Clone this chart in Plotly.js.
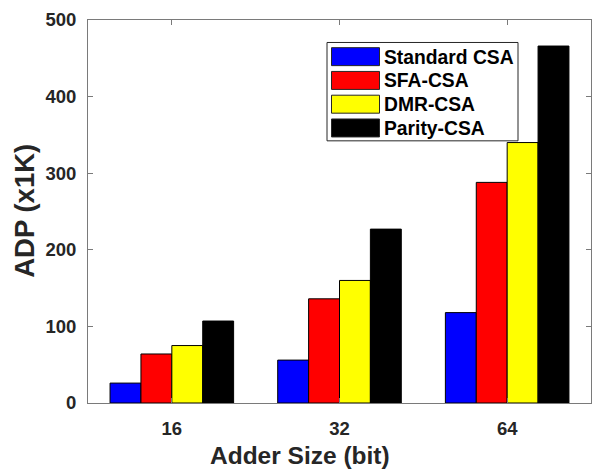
<!DOCTYPE html>
<html>
<head>
<meta charset="utf-8">
<script src="https://cdn.plot.ly/plotly-3.0.1.min.js"></script>
<style>html,body{margin:0;padding:0;background:#fff;}#chart{width:592px;height:471px;}</style>
</head>
<body>
<div id="chart"></div>
<script>
// ---- data ----
var categories = ['16', '32', '64'];
var seriesNames = ['Standard CSA', 'SFA-CSA', 'DMR-CSA', 'Parity-CSA'];
var standardCSA = [26, 56, 118];
var sfaCSA = [64, 136, 288];
var dmrCSA = [75, 160, 340];
var parityCSA = [107, 227, 466];
var yTicks = [0, 100, 200, 300, 400, 500];

// ---- styling ----
var colors = ['#0000ff', '#ff0000', '#ffff00', '#000000'];
var allValues = [standardCSA, sfaCSA, dmrCSA, parityCSA];
var W = 592, H = 471;
var L = 88, R = 591, T = 20, B = 403.5;
var txt = '#262626';
var fontFam = 'Liberation Sans, Arial, sans-serif';

function px(x) { return (x - L) / (R - L); }
function py(y) { return (B - y) / (B - T); }

var traces = seriesNames.map(function (n, i) {
  return {
    type: 'bar', name: n, x: [0, 1, 2], y: allValues[i],
    marker: { color: colors[i], line: { color: '#000', width: 1 } },
    showlegend: false, hoverinfo: 'y'
  };
});

var shapes = [], annotations = [];
// custom legend box
shapes.push({ type: 'rect', xref: 'paper', yref: 'paper', x0: px(327), x1: px(518), y0: py(141), y1: py(42.5),
  line: { color: '#262626', width: 1 }, fillcolor: '#fff', layer: 'above' });
seriesNames.forEach(function (n, i) {
  var top = 47.7 + i * 23.8;
  shapes.push({ type: 'rect', xref: 'paper', yref: 'paper', x0: px(331.5), x1: px(379.5), y0: py(top + 18), y1: py(top),
    line: { color: '#262626', width: 1 }, fillcolor: colors[i], layer: 'above' });
  annotations.push({ xref: 'paper', yref: 'paper', x: px(381.5), y: py(top + 9.5), xanchor: 'left', yanchor: 'middle',
    text: n, showarrow: false, font: { family: fontFam, size: 19.3, color: '#000', weight: 'bold' } });
});
// axis titles
annotations.push({ xref: 'paper', yref: 'paper', x: px(300), y: py(456), xanchor: 'center', yanchor: 'middle',
  text: 'Adder Size (bit)', showarrow: false, font: { family: fontFam, size: 24.5, color: txt, weight: 'bold' } });
annotations.push({ xref: 'paper', yref: 'paper', x: px(25), y: py(211), xanchor: 'center', yanchor: 'middle', textangle: -90,
  text: 'ADP (x1K)', showarrow: false, font: { family: fontFam, size: 27.5, color: txt, weight: 'bold' } });

var layout = {
  width: W, height: H,
  margin: { l: L, r: W - R, t: T, b: H - B, pad: 0 },
  paper_bgcolor: '#fff', plot_bgcolor: '#fff',
  barmode: 'group', bargap: 0.263, bargroupgap: 0,
  xaxis: {
    range: [-0.5, 2.5], tickvals: [0, 1, 2], ticktext: categories,
    showline: true, linecolor: '#7a7a7a', linewidth: 1, mirror: 'ticks',
    ticks: 'inside', ticklen: 5, tickcolor: '#7a7a7a', showgrid: false, zeroline: false,
    ticklabelstandoff: 9,
    tickfont: { family: fontFam, size: 18.5, color: txt, weight: 'bold' }
  },
  yaxis: {
    range: [0, 500], tickvals: yTicks,
    showline: true, linecolor: '#7a7a7a', linewidth: 1, mirror: 'ticks',
    ticks: 'inside', ticklen: 5, tickcolor: '#7a7a7a', showgrid: false, zeroline: false,
    ticklabelstandoff: 7,
    tickfont: { family: fontFam, size: 18.5, color: txt, weight: 'bold' }
  },
  shapes: shapes, annotations: annotations,
  font: { family: fontFam, color: txt }
};

Plotly.newPlot('chart', traces, layout, { staticPlot: true, displayModeBar: false });
</script>
</body>
</html>
